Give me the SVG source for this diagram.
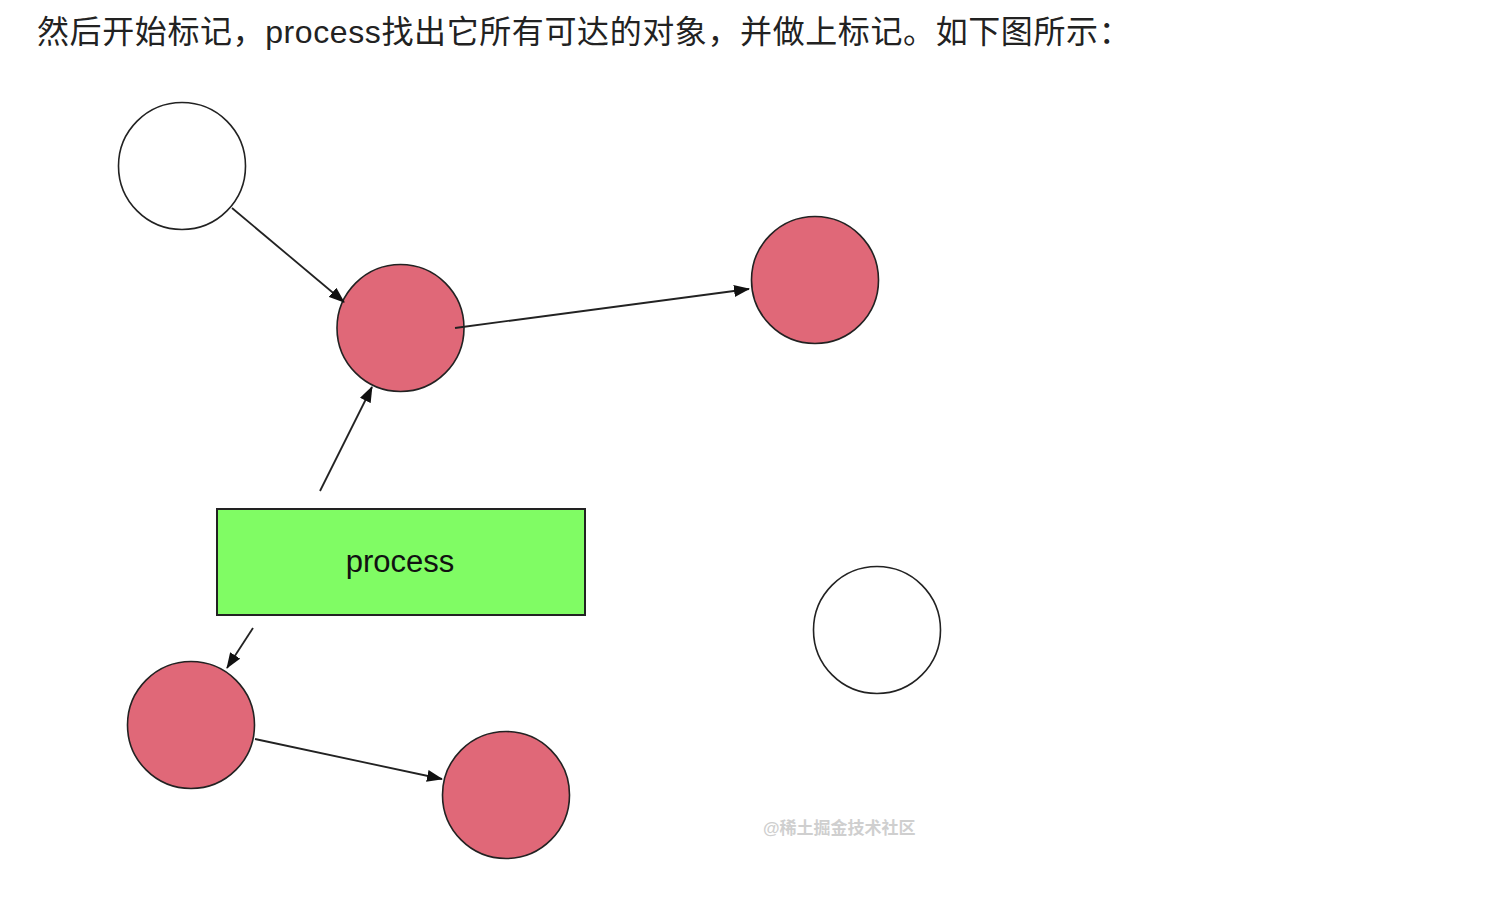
<svg xmlns="http://www.w3.org/2000/svg" width="1496" height="918" viewBox="0 0 1496 918">
<defs>
<style>
.white{fill:#ffffff;stroke:#222;stroke-width:1.6}
.red{fill:#e06878;stroke:#222;stroke-width:1.6}
.proc{fill:#80fc64;stroke:#222;stroke-width:2}
.edge{stroke:#222;stroke-width:1.8;fill:none;marker-end:url(#arr)}
.title{font-family:"Liberation Sans","Noto Sans CJK SC",sans-serif;font-size:32px;fill:#222;letter-spacing:0.6px}
.lbl{font-family:"Liberation Sans",Arial,sans-serif;font-size:31px;fill:#111}
.wm{font-family:"Liberation Sans","Noto Sans CJK SC",sans-serif;font-size:17px;fill:#cfcfcf;font-weight:bold}
</style>
<marker id="arr" markerWidth="16" markerHeight="12" refX="15" refY="6" orient="auto" markerUnits="userSpaceOnUse">
<path d="M0,0 L16,6 L0,12 Z" fill="#111"/>
</marker>
</defs>
<rect width="1496" height="918" fill="#ffffff"/>
<text class="title" x="37" y="43">然后开始标记，process找出它所有可达的对象，并做上标记。如下图所示：</text>
<g id="n1"><circle class="white" cx="182" cy="166" r="63.5"/></g>
<g id="n2"><circle class="red" cx="400.5" cy="328" r="63.5"/></g>
<g id="n3"><circle class="red" cx="815" cy="280" r="63.5"/></g>
<g id="process"><rect class="proc" x="217" y="509" width="368" height="106"/><text class="lbl" x="400" y="572" text-anchor="middle">process</text></g>
<g id="n4"><circle class="white" cx="877" cy="630" r="63.5"/></g>
<g id="n5"><circle class="red" cx="191" cy="725" r="63.5"/></g>
<g id="n6"><circle class="red" cx="506" cy="795" r="63.5"/></g>
<g id="connectors">
<line class="edge" x1="232" y1="208" x2="344" y2="302"/>
<line class="edge" x1="455" y1="328" x2="749" y2="289"/>
<line class="edge" x1="320" y1="491" x2="372" y2="387"/>
<line class="edge" x1="253" y1="628" x2="227" y2="668"/>
<line class="edge" x1="255" y1="739" x2="442" y2="779"/>
</g>
<text class="wm" x="763" y="834">@稀土掘金技术社区</text>
</svg>
